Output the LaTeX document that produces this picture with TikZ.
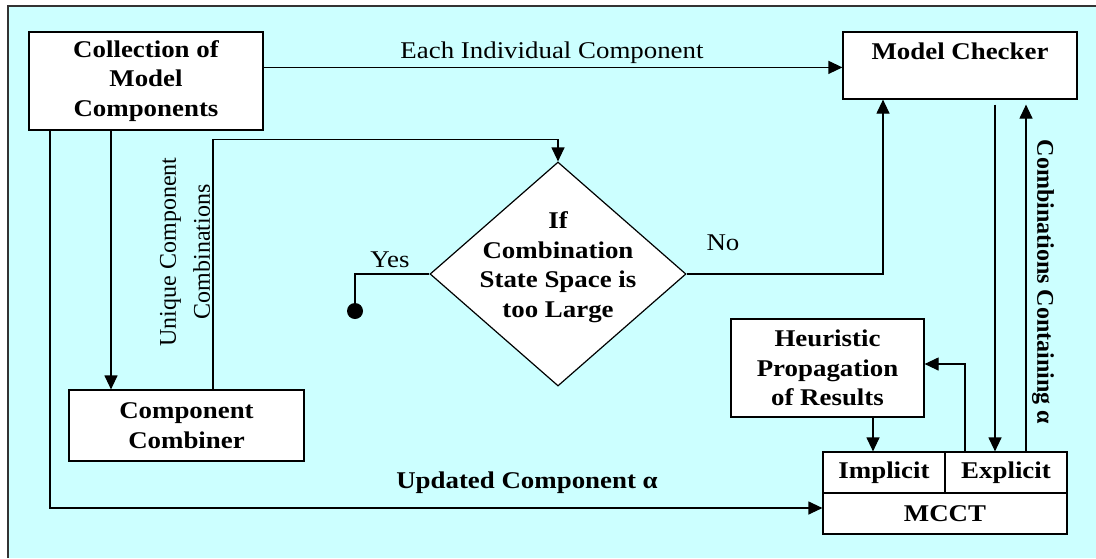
\documentclass[tikz,border=0pt]{standalone}
\usepackage{fontspec}
\setmainfont{Liberation Serif}[FakeStretch=1.12]
\newfontfamily\plainserif{Liberation Serif}
\usetikzlibrary{shapes.geometric,arrows.meta}
\definecolor{bgcyan}{HTML}{CCFFFF}
\definecolor{framegray}{HTML}{333333}
\begin{document}
\begin{tikzpicture}[x=0.5pt,y=-0.5pt,
  every node/.style={font=\fontsize{12pt}{14.8pt}\selectfont},
  box/.style={draw, fill=white, line width=0.6pt, inner sep=0pt, align=center,
    font=\fontsize{12pt}{14.8pt}\selectfont\bfseries},
  conn/.style={line width=0.6pt},
  arr/.style={conn, -{Triangle[length=7pt,width=6.5pt]}},
  lbl/.style={inner sep=0pt, align=center},
  blbl/.style={inner sep=0pt, align=center, font=\fontsize{12pt}{14.8pt}\selectfont\bfseries}]
\useasboundingbox (0,0) rectangle (1096,558);
\fill[bgcyan] (8,6) rectangle (1096,558);
\draw[framegray, line width=0.6pt] (8,558) -- (8,6) -- (1096,6);

% boxes
\node[box, minimum width=117pt, minimum height=49pt] (coll) at (146,81) {Collection of\\Model\\Components};
\node[box, minimum width=117pt, minimum height=33.5pt] (mc) at (960,65.5) {Model Checker\\\phantom{X}};
\node[box, minimum width=117.5pt, minimum height=35.5pt] (comb) at (186.5,425.5) {Component\\Combiner};
\node[box, minimum width=96.5pt, minimum height=49pt] (heur) at (827.5,368) {Heuristic\\Propagation\\of Results};
\node[box, minimum width=61pt, minimum height=20.5pt] (impl) at (884,472.5) {Implicit};
\node[box, minimum width=61pt, minimum height=20.5pt] (expl) at (1006,472.5) {Explicit};
\node[box, minimum width=122pt, minimum height=20.5pt] (mcct) at (945,513.5) {MCCT};
\node[diamond, draw, fill=white, line width=0.6pt, inner sep=0pt, minimum width=128pt, minimum height=112pt] (dec) at (558,274) {};
\node[blbl] (dect) at (558,267) {If\\Combination\\State Space is\\too Large};

% helper coordinates
\coordinate (mcA) at ([xshift=17.5pt,yshift=-2.5pt]mc.south);
\coordinate (exA) at (mcA |- expl.north);
\coordinate (exB) at ([xshift=10pt]expl.north);
\coordinate (exC) at ([xshift=-20.5pt]expl.north);
\coordinate (hA) at ([xshift=22.75pt]heur.south);
\coordinate (hB) at (hA |- impl.north);
\coordinate (cA) at ([xshift=-17.5pt]coll.south);
\coordinate (cB) at (cA |- comb.north);
\coordinate (cC) at ([xshift=-48pt]coll.south);
\coordinate (cbA) at ([xshift=13.25pt]comb.north);
\coordinate (dA) at ([yshift=11pt]dec.north);
\coordinate (noA) at ([xshift=-38.5pt]mc.south);
\coordinate (yesend) at (355,311);
\coordinate (eA) at ([yshift=-18pt]coll.north east);
\coordinate (eB) at (eA -| mc.west);

% connectors
\draw[arr] (eA) -- (eB);
\draw[arr] (cA) -- (cB);
\draw[arr] (cbA) |- (dA) -- (dec.north);
\draw[arr] (dec.east) -| (noA);
\draw[conn] (dec.west) -| (yesend);
\fill (yesend) circle (4pt);
\draw[arr] (cC) |- ([yshift=2.75pt]mcct.west);
\draw[arr] (mcA) -- (exA);
\draw[arr] (exB) -- (exB |- mcA);
\draw[arr] (exC) |- ([yshift=2pt]heur.east);
\draw[arr] (hA) -- (hB);

% labels
\node[lbl] (l1) at (552,53) {Each Individual Component};
\node[lbl] (l2) at (723,243) {No};
\node[lbl] (l3) at (390,260) {Yes};
\node[blbl] (l4) at (527,483) {Updated Component α};
\node[blbl, rotate=-90, font=\fontsize{12pt}{14.8pt}\selectfont\plainserif\bfseries] (l5) at (1043,282) {Combinations Containing α};
\node[lbl, rotate=90, font=\fontsize{12pt}{17pt}\selectfont\plainserif] (l6) at (185,252) {Unique Component\\Combinations};
\end{tikzpicture}
\end{document}
